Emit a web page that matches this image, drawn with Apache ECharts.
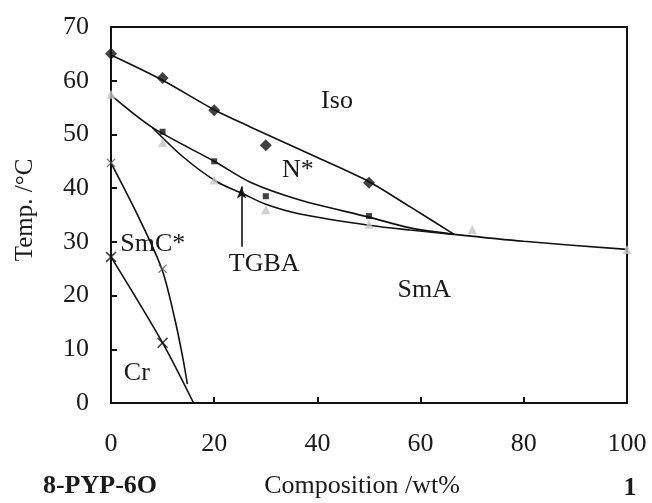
<!DOCTYPE html>
<html>
<head>
<meta charset="utf-8">
<script src="https://cdn.jsdelivr.net/npm/echarts@6/dist/echarts.min.js"></script>
<style>
  html, body {margin: 0; padding: 0; background: #fff;}
  #chart {width: 652px; height: 503px;}
</style>
</head>
<body>
<div id="chart"></div>
<script>
// measured points
const isoX = [0, 10, 20, 30, 50];
const isoT = [65, 60.5, 54.5, 48, 41];
const sqX = [10, 20, 30, 50];
const sqT = [50.5, 45, 38.5, 34.8];
const triX = [0, 10, 20, 30, 50, 70, 100];
const triT = [57.5, 48.5, 41.5, 36, 33.3, 32.3, 28.6];
const crossLightX = [0, 10];
const crossLightT = [44.7, 25];
const crossBoldX = [0, 10];
const crossBoldT = [27.2, 11.2];

// phase boundaries
const isoLineX = [0, 10, 20, 27, 40, 50, 58, 66.5];
const isoLineT = [64.8, 60.1, 54.6, 51.4, 45.7, 41.2, 36.5, 31.4];
const tgbaUpX = [0, 8, 20, 27, 36.6, 50, 58, 66.5];
const tgbaUpT = [57.3, 51.3, 45, 41.1, 37.8, 34.6, 32.6, 31.4];
const tgbaLowX = [8, 14, 20.5, 25.5, 30, 36.6, 50, 58, 66.5];
const tgbaLowT = [51.3, 45.8, 41.2, 39, 37, 35.2, 33.1, 32.2, 31.4];
const smaLineX = [66.5, 80, 100];
const smaLineT = [31.4, 30.1, 28.6];
const smcLineX = [0, 5.6, 9.9, 12.4, 14, 14.8];
const smcLineT = [44.7, 34.1, 24.8, 15.5, 8, 3.5];
const crLineX = [0, 10, 16];
const crLineT = [27.2, 11.2, 0];

// phase names
const phaseNames = ['Iso', 'N*', 'SmC*', 'TGBA', 'SmA', 'Cr'];
const phaseX = [43.8, 36.2, 8.1, 29.7, 60.7, 5];
const phaseT = [56.1, 43.4, 29.5, 25.8, 21, 5.6];

const arrowX = [25.3, 25.3];
const arrowT = [29.1, 40.3];

const FONT = "'Liberation Serif', 'Times New Roman', serif";

function zip(xs, ys) {
    return xs.map((x, i) => [x, ys[i]]);
}

function gen_curve(xs, ys) {
    return {
        type: 'line',
        data: zip(xs, ys),
        smooth: 0.3,
        showSymbol: false,
        symbol: 'none',
        lineStyle: {color: '#111', width: 1.6},
        silent: true,
        z: 2
    };
}

function gen_points(xs, ys, symbol, size, color) {
    return {
        type: 'scatter',
        data: zip(xs, ys),
        symbol: symbol,
        symbolSize: size,
        itemStyle: {color: color},
        z: 3
    };
}

const crossPath = 'path://M0,1L1,0L5,4L9,0L10,1L6,5L10,9L9,10L5,6L1,10L0,9L4,5Z';

let chart = echarts.init(document.getElementById('chart'));

let option = {
    animation: false,
    grid: {
        left: 111, top: 27, right: 25, bottom: 100,
        show: true, borderColor: '#111', borderWidth: 2
    },
    xAxis: {
        type: 'value', min: 0, max: 100, interval: 20,
        axisLine: {lineStyle: {color: '#111', width: 2}},
        axisTick: {inside: true, length: 6, lineStyle: {color: '#111', width: 2}},
        splitLine: {show: false},
        axisLabel: {color: '#1a1a1a', fontFamily: FONT, fontSize: 26, margin: 28}
    },
    yAxis: {
        type: 'value', min: 0, max: 70, interval: 10,
        axisLine: {lineStyle: {color: '#111', width: 2}},
        axisTick: {inside: true, length: 6, lineStyle: {color: '#111', width: 2}},
        splitLine: {show: false},
        axisLabel: {color: '#1a1a1a', fontFamily: FONT, fontSize: 26, margin: 22}
    },
    graphic: [
        {type: 'text', x: 25, y: 210, rotation: Math.PI / 2,
         style: {text: 'Temp. /°C', font: '25px ' + FONT, fill: '#1a1a1a',
                 align: 'center', verticalAlign: 'middle'}},
        {type: 'text', x: 362, y: 486,
         style: {text: 'Composition /wt%', font: '26px ' + FONT, fill: '#1a1a1a',
                 align: 'center', verticalAlign: 'middle'}},
        {type: 'text', x: 100, y: 486,
         style: {text: '8-PYP-6O', font: 'bold 26px ' + FONT, fill: '#1a1a1a',
                 align: 'center', verticalAlign: 'middle'}},
        {type: 'text', x: 630, y: 488,
         style: {text: '1', font: 'bold 26px ' + FONT, fill: '#1a1a1a',
                 align: 'center', verticalAlign: 'middle'}}
    ],
    series: [
        gen_curve(isoLineX, isoLineT),
        gen_curve(tgbaUpX, tgbaUpT),
        gen_curve(tgbaLowX, tgbaLowT),
        gen_curve(smaLineX, smaLineT),
        gen_curve(smcLineX, smcLineT),
        gen_curve(crLineX, crLineT),
        gen_points(triX, triT, 'triangle', 9, '#c4c4c4'),
        gen_points(isoX, isoT, 'diamond', 12, '#111'),
        gen_points(sqX, sqT, 'rect', 6, '#111'),
        gen_points(crossLightX, crossLightT, crossPath, 9, '#555'),
        gen_points(crossBoldX, crossBoldT, crossPath, 11, '#111'),
        {
            type: 'scatter',
            data: phaseNames.map((n, i) => ({name: n, value: [phaseX[i], phaseT[i]]})),
            symbolSize: 1,
            itemStyle: {color: 'rgba(0,0,0,0)'},
            label: {
                show: true, position: 'inside', formatter: '{b}',
                color: '#1a1a1a', fontFamily: FONT, fontSize: 26,
                textBorderWidth: 0, opacity: 1
            },
            markLine: {
                silent: true,
                symbol: ['none', 'arrow'],
                symbolSize: [7, 12],
                label: {show: false},
                lineStyle: {color: '#111', width: 1.6, type: 'solid'},
                data: [[{coord: [arrowX[0], arrowT[0]]}, {coord: [arrowX[1], arrowT[1]]}]]
            },
            z: 4
        }
    ]
};

chart.setOption(option);
</script>
</body>
</html>
